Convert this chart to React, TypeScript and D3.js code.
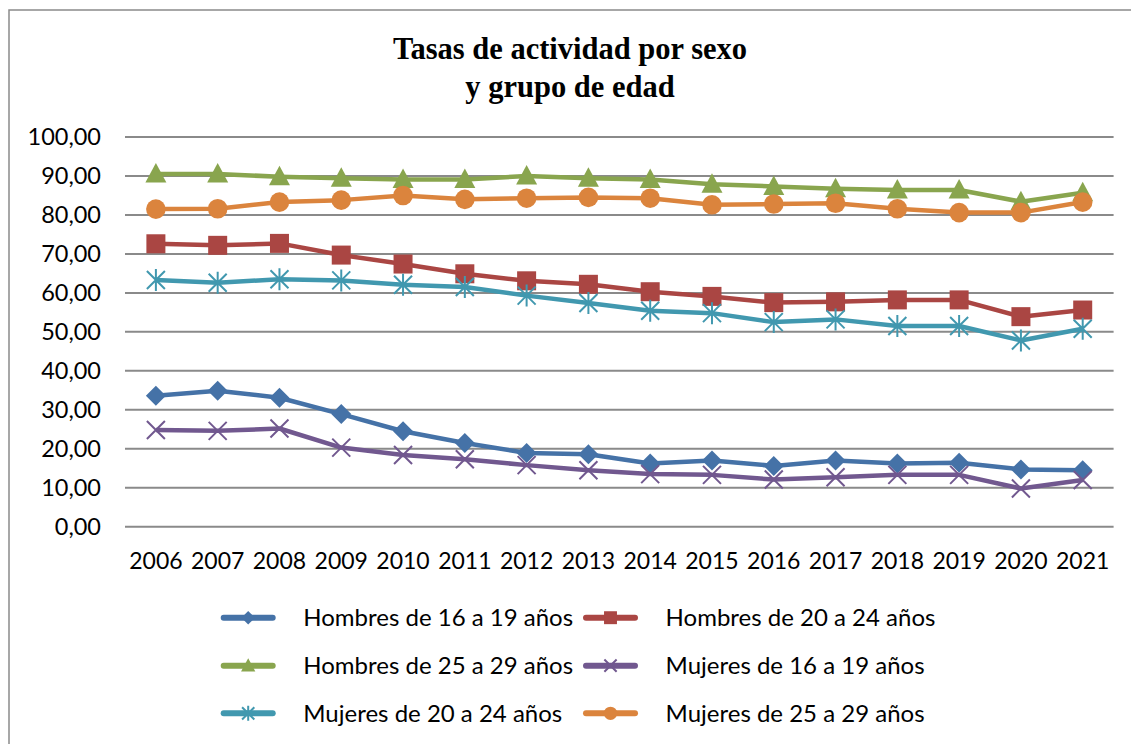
import React from "react";
import * as d3 from "d3";

const years = ["2006","2007","2008","2009","2010","2011","2012","2013","2014","2015","2016","2017","2018","2019","2020","2021"];
const hombres1619 = [33.6,34.9,33.1,28.9,24.5,21.5,18.9,18.6,16.2,17.0,15.6,17.0,16.2,16.4,14.7,14.5];
const hombres2024 = [72.6,72.2,72.7,69.7,67.4,64.9,63.1,62.2,60.3,59.1,57.5,57.7,58.2,58.2,53.9,55.6];
const hombres2529 = [90.5,90.5,89.8,89.4,89.1,89.1,90.0,89.4,89.1,87.9,87.3,86.7,86.4,86.4,83.4,85.7];
const mujeres1619 = [24.8,24.6,25.2,20.3,18.4,17.3,15.8,14.5,13.5,13.3,12.1,12.7,13.3,13.3,9.8,12.0];
const mujeres2024 = [63.3,62.6,63.5,63.2,62.1,61.5,59.3,57.4,55.4,54.8,52.5,53.2,51.5,51.5,47.8,50.8];
const mujeres2529 = [81.5,81.6,83.3,83.8,85.0,84.0,84.3,84.5,84.3,82.6,82.8,83.0,81.6,80.6,80.6,83.3];
const yTicks = [0,10,20,30,40,50,60,70,80,90,100];
const titleLines = ["Tasas de actividad por sexo", "y grupo de edad"];

type Series = { name: string; values: number[]; color: string; marker: string };
const series: Series[] = [
  { name: "Hombres de 16 a 19 años", values: hombres1619, color: "#4572A7", marker: "diamond" },
  { name: "Hombres de 20 a 24 años", values: hombres2024, color: "#AA4643", marker: "square" },
  { name: "Hombres de 25 a 29 años", values: hombres2529, color: "#89A54E", marker: "triangle" },
  { name: "Mujeres de 16 a 19 años", values: mujeres1619, color: "#71588F", marker: "x" },
  { name: "Mujeres de 20 a 24 años", values: mujeres2024, color: "#4198AF", marker: "star" },
  { name: "Mujeres de 25 a 29 años", values: mujeres2529, color: "#DB843D", marker: "circle" },
];

function Marker({ type, color, cx, cy, s = 1 }: { type: string; color: string; cx: number; cy: number; s?: number }) {
  const t = `translate(${cx},${cy}) scale(${s})`;
  switch (type) {
    case "diamond":
      return <path transform={t} d="M0,-10L10,0L0,10L-10,0Z" fill={color} />;
    case "square":
      return <rect transform={t} x={-9.5} y={-9.5} width={19} height={19} fill={color} />;
    case "triangle":
      return <path transform={t} d="M0,-11L10.5,8.5L-10.5,8.5Z" fill={color} />;
    case "circle":
      return <circle transform={t} r={9.8} fill={color} />;
    case "x":
      return <path transform={t} d="M-9,-9L9,9M9,-9L-9,9" stroke={color} strokeWidth={2 / s} fill="none" />;
    case "star":
      return <path transform={t} d="M-9,-9L9,9M9,-9L-9,9M0,-11L0,11" stroke={color} strokeWidth={2 / s} fill="none" />;
  }
  return null;
}

export default function App() {
  const W = 1131, H = 744;
  const left = 125, right = 1113.6, top = 137, bottom = 526.7;
  const x = d3.scaleBand<string>().domain(years).range([left, right]);
  const y = d3.scaleLinear().domain([0, 100]).range([bottom, top]);
  const line = d3.line<number>()
    .x((_, i) => (x(years[i]) as number) + x.bandwidth() / 2)
    .y((v) => y(v));
  const fmt = (v: number) => v.toFixed(2).replace(".", ",");
  const fontSans = "Lato, 'Noto Sans', sans-serif";

  const legendCols = [220.7, 583];
  const legendRows = [617.7, 665.7, 713.3];

  return (
    <svg width={W} height={H} style={{ position: "absolute", left: 0, top: 0, background: "#fff" }}>
      <rect x={9} y={10} width={1200} height={900} fill="#fff" stroke="#8a8a8a" strokeWidth={1.5} />
      <text fontFamily="'Liberation Serif', 'Times New Roman', serif" fontWeight="bold" fontSize={30.5} textAnchor="middle">
        <tspan x={570} y={59}>{titleLines[0]}</tspan>
        <tspan x={570} y={97}>{titleLines[1]}</tspan>
      </text>
      {yTicks.map((t) => (
        <g key={t}>
          <line x1={left} x2={right} y1={y(t)} y2={y(t)} stroke="#8a8a8a" strokeWidth={2} />
          <text x={101} y={y(t)} dy="0.35em" textAnchor="end" fontFamily={fontSans} fontSize={23.5} fill="#000">{fmt(t)}</text>
        </g>
      ))}
      {years.map((yr) => (
        <text key={yr} x={(x(yr) as number) + x.bandwidth() / 2} y={560.5} dy="0.35em" textAnchor="middle" fontFamily={fontSans} fontSize={23} fill="#000">{yr}</text>
      ))}
      {series.map((s) => (
        <g key={s.name}>
          <path d={line(s.values) || ""} fill="none" stroke={s.color} strokeWidth={4.5} strokeLinejoin="round" />
          {s.values.map((v, i) => (
            <Marker key={i} type={s.marker} color={s.color} cx={(x(years[i]) as number) + x.bandwidth() / 2} cy={y(v)} />
          ))}
        </g>
      ))}
      {series.map((s, i) => {
        const col = i % 2;
        const row = Math.floor(i / 2);
        const lx = legendCols[col];
        const ly = legendRows[row];
        return (
          <g key={"lg" + s.name}>
            <line x1={lx + 3} x2={lx + 52} y1={ly} y2={ly} stroke={s.color} strokeWidth={6} strokeLinecap="round" />
            <Marker type={s.marker} color={s.color} cx={lx + 27.5} cy={ly} s={0.68} />
            <text x={lx + 82.6} y={ly} dy="0.35em" fontFamily={fontSans} fontSize={24} fill="#000">{s.name}</text>
          </g>
        );
      })}
    </svg>
  );
}
